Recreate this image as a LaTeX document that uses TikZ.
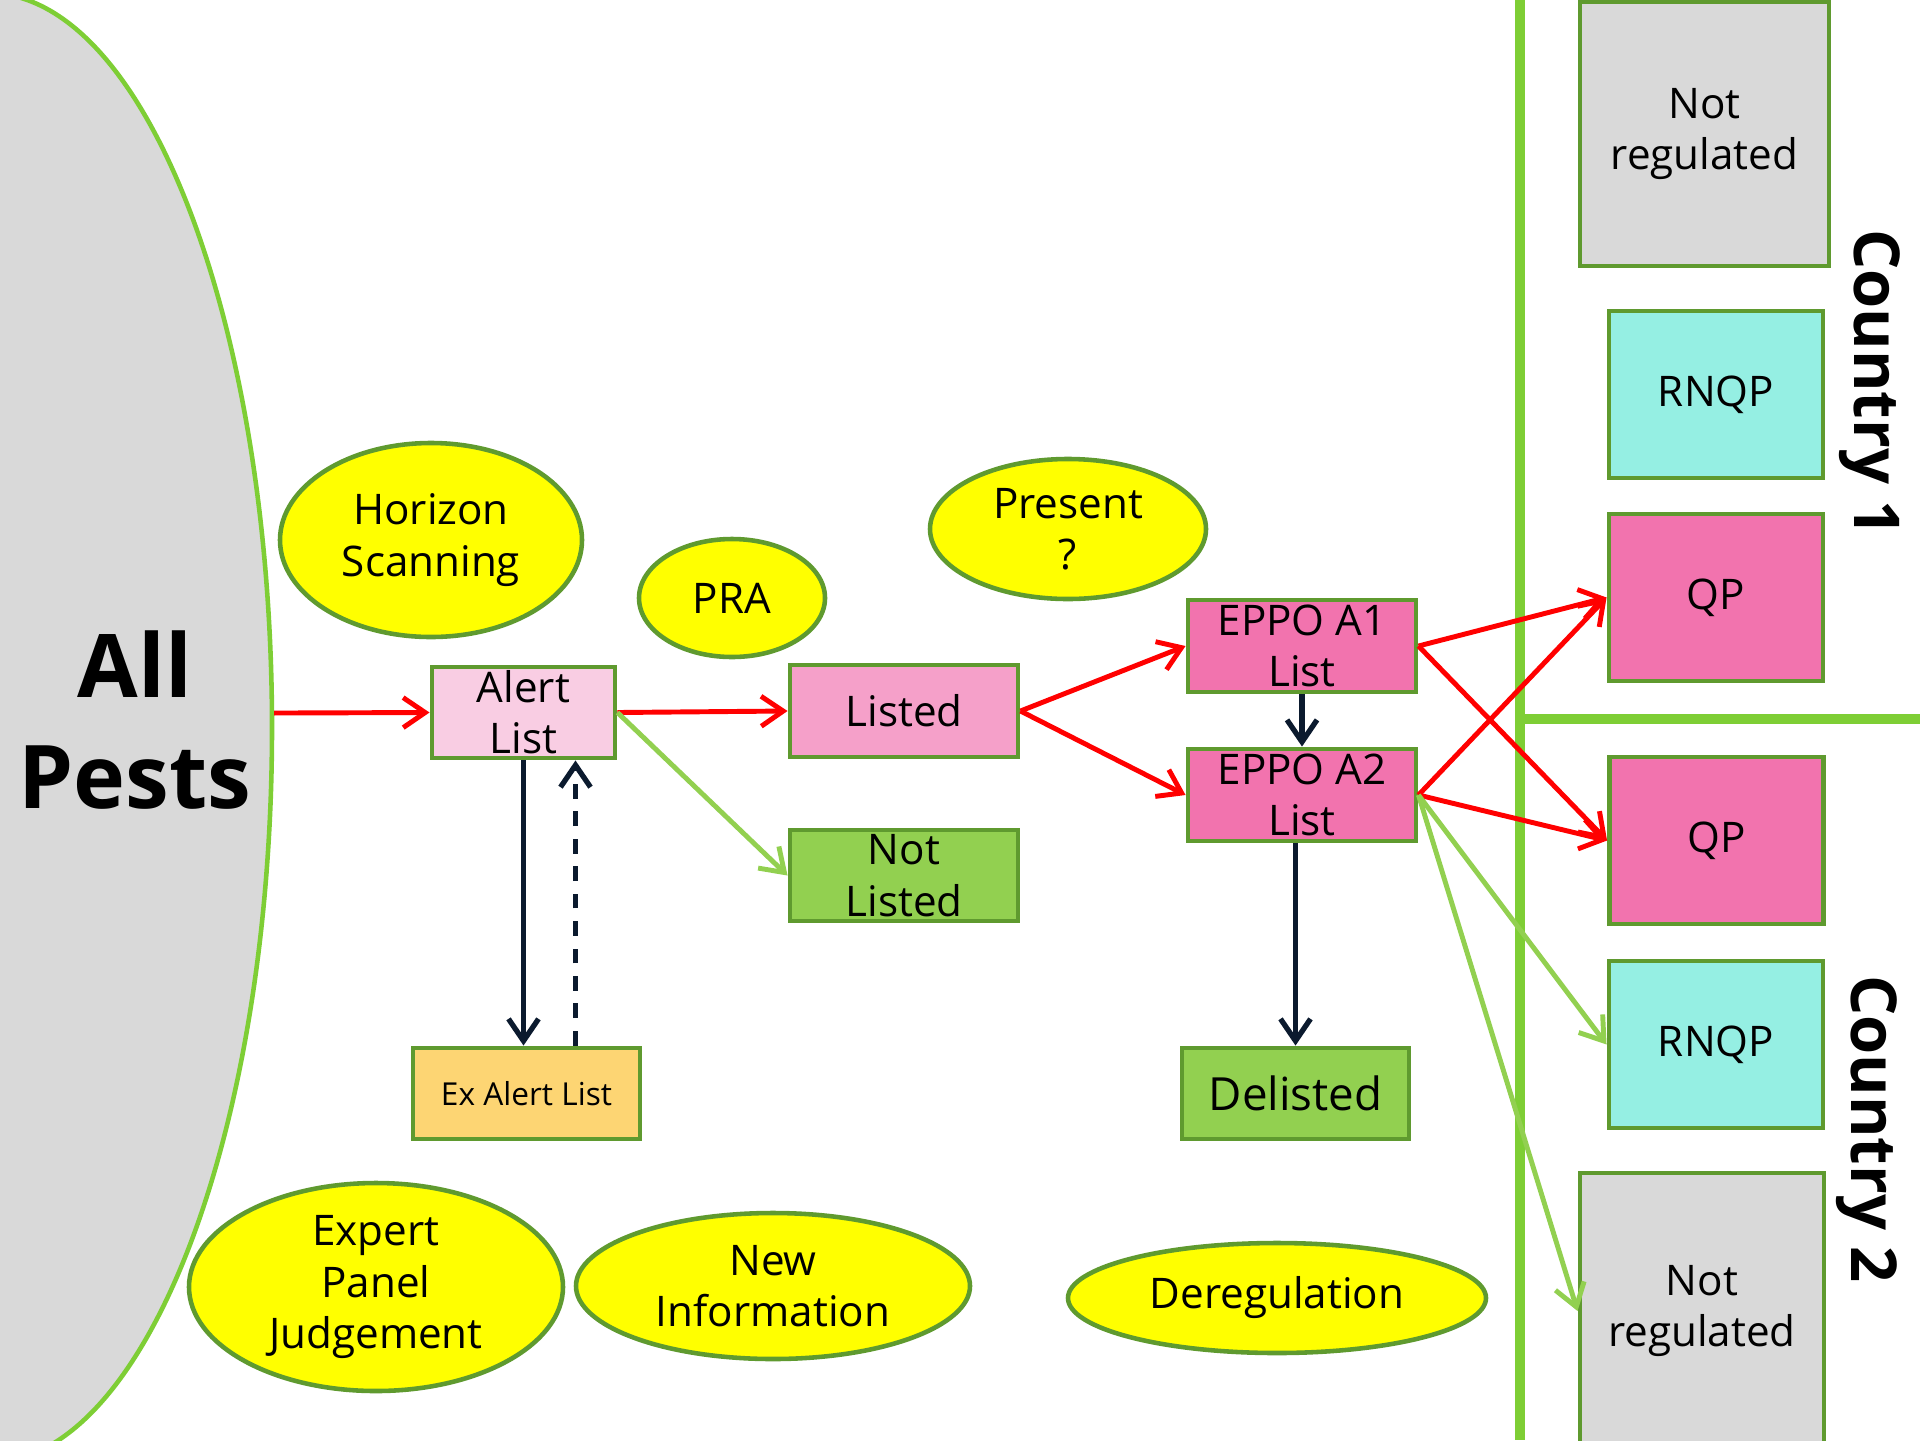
\documentclass[tikz,border=0pt]{standalone}
\usepackage{fontspec}
\setmainfont{Open Sans}
\usetikzlibrary{shapes.geometric}
\usetikzlibrary{arrows.meta}

\definecolor{pestgray}{HTML}{D9D9D9}
\definecolor{framegreen}{HTML}{7ECE35}
\definecolor{rimgreen}{HTML}{5F9A2F}
\definecolor{bubbleyellow}{HTML}{FFFF00}
\definecolor{arrowred}{HTML}{FF0000}
\definecolor{arrownavy}{HTML}{0B1A2E}
\definecolor{arrowgreen}{HTML}{92D050}
\definecolor{alertpink}{HTML}{F9CDE3}
\definecolor{listedpink}{HTML}{F5A0C9}
\definecolor{eppopink}{HTML}{F273AE}
\definecolor{leafgreen}{HTML}{92D050}
\definecolor{exorange}{HTML}{FDD573}
\definecolor{rnqpcyan}{HTML}{95EFE3}

\tikzset{
  listbox/.style={draw=rimgreen, line width=1.4pt, minimum width=2.28cm, minimum height=0.91cm,
    inner sep=0pt, align=center, font=\fontsize{12}{14.6}\selectfont},
  countrybox/.style={listbox, minimum width=2.14cm, minimum height=1.67cm},
  bubble/.style={ellipse, draw=rimgreen, fill=bubbleyellow, line width=1.3pt, inner sep=0pt,
    align=center, font=\fontsize{12}{14.6}\selectfont},
  redline/.style={draw=arrowred, line width=1.4pt, -{Straight Barb[length=2.2mm,width=3mm]}},
  navyline/.style={draw=arrownavy, line width=1.5pt, -{Straight Barb[length=2.2mm,width=3mm]}},
  greenline/.style={draw=arrowgreen, line width=1.4pt, -{Straight Barb[length=2.2mm,width=3mm]}},
  countrylabel/.style={rotate=-90, font=\bfseries\fontsize{18}{20}\selectfont}
}

\begin{document}
\begin{tikzpicture}
  \useasboundingbox (0,0) rectangle (19.2,-14.4);
  % all pests
  \node[ellipse, draw=framegreen, fill=pestgray, line width=1.3pt, minimum width=5.68cm,
    minimum height=14.7cm, inner sep=0pt] (pests) at (-0.12,-7.28) {};
  \node[align=center, font=\bfseries\fontsize{25}{31.5}\selectfont] (pestslabel) at (1.35,-7.2) {All\\Pests};
  % country frame
  \draw[framegreen, line width=2.6pt] (15.2,0) -- (15.2,-14.4);
  \draw[framegreen, line width=2.6pt] (15.2,-7.19) -- (19.2,-7.19);
  %
  \node[bubble, minimum width=3.02cm, minimum height=1.94cm] (horizon) at (4.31,-5.40) {Horizon\\Scanning};
  \node[bubble, minimum width=1.86cm, minimum height=1.18cm] (pra) at (7.32,-5.98) {PRA};
  \node[bubble, minimum width=2.76cm, minimum height=1.40cm] (present) at (10.68,-5.29) {Present\\?};
  \node[bubble, minimum width=3.74cm, minimum height=2.08cm] (expert) at (3.76,-12.87) {Expert\\Panel\\Judgement};
  \node[bubble, minimum width=3.94cm, minimum height=1.46cm] (newinfo) at (7.73,-12.86) {New\\Information};
  \node[bubble, minimum width=4.18cm, minimum height=1.10cm] (dereg) at (12.77,-12.98) {Deregulation};
  %
  \node[listbox, fill=alertpink, minimum width=1.83cm] (alert) at (5.235,-7.125) {Alert\\List};
  \node[listbox, fill=listedpink, minimum height=0.92cm] (listed) at (9.04,-7.11) {Listed};
  \node[listbox, fill=leafgreen] (notlisted) at (9.04,-8.755) {Not\\Listed};
  \node[listbox, fill=exorange, minimum width=2.27cm, font=\fontsize{9}{11}\selectfont] (exalert) at (5.265,-10.935) {Ex Alert List};
  \node[listbox, fill=eppopink, minimum height=0.92cm] (eppoa1) at (13.02,-6.46) {EPPO A1\\List};
  \node[listbox, fill=eppopink, minimum height=0.92cm] (eppoa2) at (13.02,-7.95) {EPPO A2\\List};
  \node[listbox, fill=leafgreen, minimum width=2.27cm, font=\fontsize{13}{15}\selectfont] (delisted) at (12.955,-10.935) {Delisted};
  %
  \node[countrybox, fill=pestgray, minimum width=2.49cm, minimum height=2.64cm] (notreg1) at (17.045,-1.34) {Not\\regulated};
  \node[countrybox, fill=rnqpcyan] (rnqp1) at (17.16,-3.945) {RNQP};
  \node[countrybox, fill=eppopink] (qp1) at (17.16,-5.975) {QP};
  \node[countrybox, fill=eppopink] (qp2) at (17.165,-8.405) {QP};
  \node[countrybox, fill=rnqpcyan] (rnqp2) at (17.16,-10.445) {RNQP};
  \node[countrybox, fill=pestgray, minimum width=2.44cm, minimum height=2.76cm] (notreg2) at (17.02,-13.11) {Not\\regulated};
  \node[countrylabel] (country1) at (18.70,-3.83) {Country 1};
  \node[countrylabel] (country2) at (18.67,-11.29) {Country 2};
  % connectors
  \draw[redline] (pests.3.5) -- (alert.west);
  \draw[redline] (alert.east) -- (listed.west);
  \draw[greenline] (alert.east) -- (notlisted.west);
  \draw[navyline] (alert.south) -- (alert.south |- exalert.north);
  \draw[navyline, dash pattern=on 4.2pt off 3.6pt] ([xshift=5.2mm]alert.south |- exalert.north) -- ([xshift=5.2mm]alert.south);
  \draw[redline] (listed.east) -- (eppoa1.west);
  \draw[redline] (listed.east) -- (eppoa2.west);
  \draw[navyline] (eppoa1.south) -- (eppoa2.north);
  \draw[navyline] (eppoa2.south -| delisted.north) -- (delisted.north);
  \draw[redline] (eppoa1.east) -- (qp1.west);
  \draw[redline] (eppoa1.east) -- (qp2.west);
  \draw[redline] (eppoa2.east) -- (qp1.west);
  \draw[redline] (eppoa2.east) -- (qp2.west);
  \draw[greenline] (eppoa2.east) -- (rnqp2.west);
  \draw[greenline] (eppoa2.east) -- (notreg2.west);
\end{tikzpicture}
\end{document}
